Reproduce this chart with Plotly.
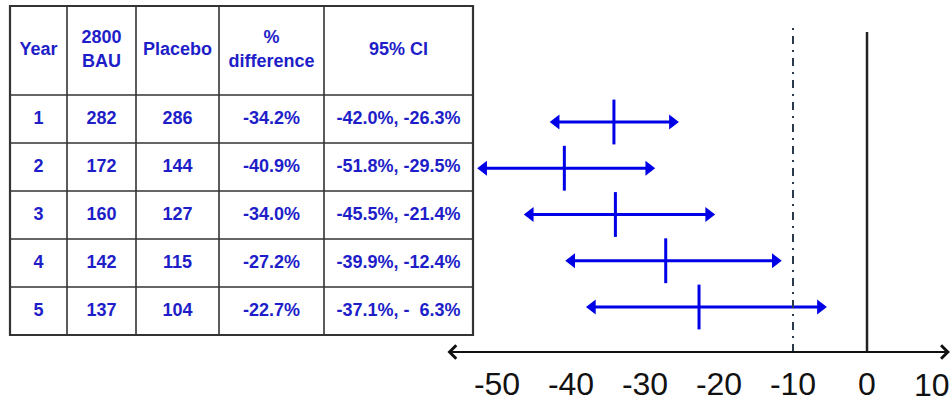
import plotly.graph_objects as go

# ---- data ----
years = [1, 2, 3, 4, 5]
bau_cases = [282, 172, 160, 142, 137]
placebo_cases = [286, 144, 127, 115, 104]
pct_difference = [-34.2, -40.9, -34.0, -27.2, -22.7]
ci_low = [-42.0, -51.8, -45.5, -39.9, -37.1]
ci_high = [-26.3, -29.5, -21.4, -12.4, -6.3]
header_labels = ["Year", "2800<br>BAU", "Placebo", "%<br>difference", "95% CI"]
axis_ticks = [-50, -40, -30, -20, -10, 0, 10]
margin_line = -10

W, H = 951, 402
BLUE = "rgb(0,0,230)"
TXT_BLUE = "rgb(30,30,200)"
FONT = "Liberation Sans, Arial, sans-serif"

# table geometry (pixel units on the table overlay axes)
col_edges = [10, 67, 136, 219, 324, 473]
row_edges = [6, 95, 143, 191, 239, 287, 335]


def fmt_pct(v):
    s = f"{abs(v):.1f}%"
    if abs(v) < 10:
        s = "\u00a0\u00a0" + s
    return ("-" if v < 0 else "") + s


ci_text = [f"{fmt_pct(lo)}, {fmt_pct(hi)}" for lo, hi in zip(ci_low, ci_high)]
pct_text = [f"{v:.1f}%" for v in pct_difference]

fig = go.Figure()

# ---- table ----
col_mid = [(a + b) / 2 for a, b in zip(col_edges[:-1], col_edges[1:])]
row_mid = [(a + b) / 2 for a, b in zip(row_edges[:-1], row_edges[1:])]

fig.add_trace(go.Scatter(
    x=col_mid, y=[row_mid[0]] * len(col_mid), mode="text", text=header_labels,
    textfont=dict(family=FONT, size=18, color=TXT_BLUE, weight="bold"),
    xaxis="x2", yaxis="y2", hoverinfo="skip", showlegend=False, cliponaxis=False,
))
columns = [
    [str(y) for y in years],
    [str(v) for v in bau_cases],
    [str(v) for v in placebo_cases],
    pct_text,
    ci_text,
]
for cx, vals in zip(col_mid, columns):
    fig.add_trace(go.Scatter(
        x=[cx] * len(vals), y=row_mid[1:], mode="text", text=vals,
        textfont=dict(family=FONT, size=18, color=TXT_BLUE, weight="bold"),
        xaxis="x2", yaxis="y2", hoverinfo="skip", showlegend=False, cliponaxis=False,
    ))

shapes = []
grid = dict(color="#333333", width=1.6)
for ry in row_edges[1:-1]:
    shapes.append(dict(type="line", xref="x2", yref="y2", x0=col_edges[0], x1=col_edges[-1],
                       y0=ry, y1=ry, line=grid))
for cxe in col_edges[1:-1]:
    shapes.append(dict(type="line", xref="x2", yref="y2", x0=cxe, x1=cxe,
                       y0=row_edges[0], y1=row_edges[-1], line=grid))
shapes.append(dict(type="rect", xref="x2", yref="y2", x0=col_edges[0], x1=col_edges[-1],
                   y0=row_edges[0], y1=row_edges[-1], line=dict(color="#333333", width=2.2)))

# ---- forest plot ----
seg_x, seg_y = [], []
for lo, hi, yr in zip(ci_low, ci_high, years):
    seg_x += [lo, hi, None]
    seg_y += [yr, yr, None]
fig.add_trace(go.Scatter(x=seg_x, y=seg_y, mode="lines", line=dict(color=BLUE, width=3),
                         hoverinfo="skip", showlegend=False))
fig.add_trace(go.Scatter(x=ci_low, y=years, mode="markers",
                         marker=dict(symbol="triangle-left", size=13, color=BLUE),
                         hoverinfo="skip", showlegend=False))
fig.add_trace(go.Scatter(x=ci_high, y=years, mode="markers",
                         marker=dict(symbol="triangle-right", size=13, color=BLUE),
                         hoverinfo="skip", showlegend=False))
fig.add_trace(go.Scatter(x=pct_difference, y=years, mode="markers",
                         marker=dict(symbol="line-ns", size=32, line=dict(color=BLUE, width=3)),
                         hoverinfo="skip", showlegend=False))

axis_y = 50 / H
shapes.append(dict(type="line", xref="x", yref="paper", x0=margin_line, x1=margin_line,
                   y0=axis_y, y1=(H - 27) / H,
                   line=dict(color="#2a3a4a", width=2, dash="8px,6px,2px,6px")))
shapes.append(dict(type="line", xref="x", yref="paper", x0=0, x1=0,
                   y0=axis_y, y1=(H - 32) / H, line=dict(color="#222222", width=2.5)))

annotations = [dict(
    x=11.2, y=axis_y, xref="x", yref="paper", ax=-56.9, ay=0, axref="x", ayref="pixel",
    text="", showarrow=True, arrowhead=4, startarrowhead=4, arrowside="end+start",
    arrowwidth=2, arrowsize=1.3, startarrowsize=1.3, arrowcolor="#111111",
)]

# the last tick label sits against the right edge of the figure
edge_tick = axis_ticks[-1]
inner_ticks = axis_ticks[:-1]
annotations.append(dict(
    x=1, y=(H - 385) / H, xref="paper", yref="paper", xanchor="right", yanchor="middle",
    text=str(edge_tick), showarrow=False, borderpad=0,
    font=dict(family=FONT, size=32, color="#111111"),
))

fig.update_layout(
    width=W, height=H, margin=dict(l=0, r=0, t=0, b=0),
    paper_bgcolor="white", plot_bgcolor="rgba(0,0,0,0)",
    shapes=shapes, annotations=annotations, showlegend=False,
    xaxis=dict(domain=[0, 1], range=[-117.16, 11.35], tickvals=inner_ticks,
               ticktext=[str(t) for t in inner_ticks], ticks="", showline=False,
               showgrid=False, zeroline=False, ticklabelstandoff=10,
               tickfont=dict(family=FONT, size=32, color="#111111"), fixedrange=True),
    yaxis=dict(domain=[axis_y, 1], range=[5.973, -1.638], visible=False, fixedrange=True),
    xaxis2=dict(domain=[0, 1], range=[0, W], visible=False, anchor="y2", fixedrange=True),
    yaxis2=dict(domain=[0, 1], range=[H, 0], visible=False, anchor="x2", fixedrange=True),
)

fig.write_html("out.html")
